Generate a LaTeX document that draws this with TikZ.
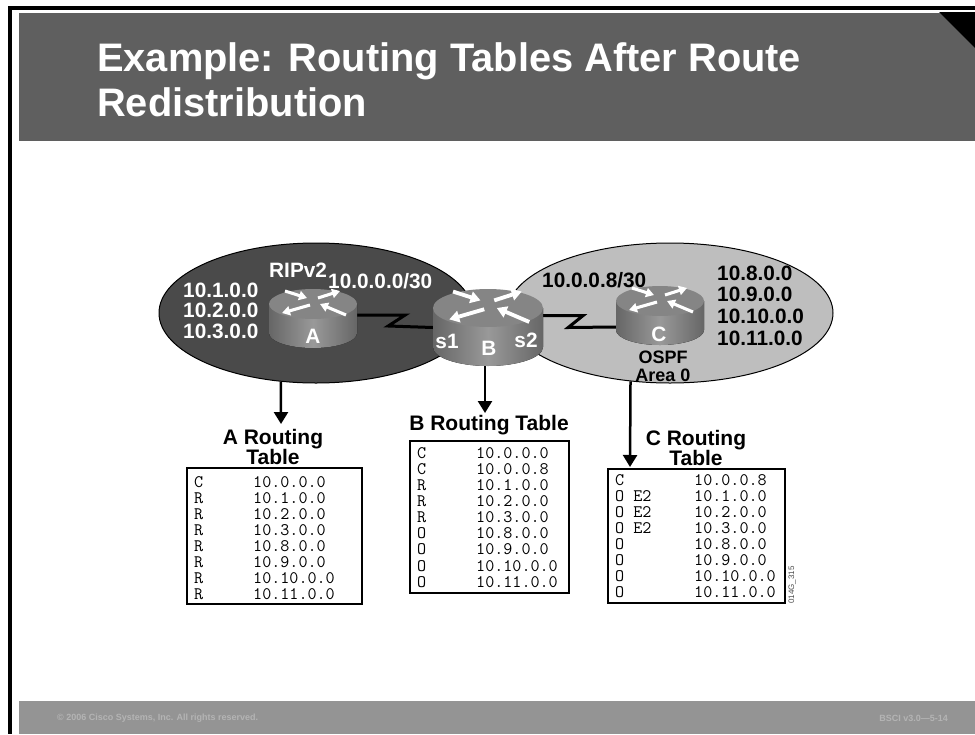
\documentclass[tikz,border=0pt]{standalone}
\usepackage{fontspec}
\setmainfont{Liberation Sans}
\usetikzlibrary{arrows.meta,shapes.geometric}

\definecolor{headgray}{HTML}{5F5F5F}
\definecolor{footgray}{HTML}{949494}
\definecolor{footink}{HTML}{B4B4B4}
\definecolor{ripfill}{HTML}{4A4A4A}
\definecolor{ospffill}{HTML}{BEBEBE}
\definecolor{routertop}{HTML}{858585}
\definecolor{routerdark}{HTML}{666666}
\definecolor{routerlight}{HTML}{999999}

\tikzset{
  area/.style={ellipse,draw=black,line width=1pt,inner sep=0pt,minimum width=#1},
  routerbox/.style={rectangle,inner sep=0pt},
  netlabel/.style={anchor=west,inner sep=0pt,font=\fontsize{20.8}{22}\selectfont\bfseries},
  smalllabel/.style={inner sep=0pt,align=center,font=\fontsize{18}{18}\selectfont\bfseries},
  tabletitle/.style={inner sep=0pt,align=center,font=\fontsize{21}{18}\selectfont\bfseries},
  tablebox/.style={rectangle,draw=black,line width=1.6pt,fill=white,inner sep=0pt},
  rowtext/.style={anchor=west,inner sep=0pt,font=\fontsize{17.6}{16}\selectfont\ttfamily},
  footnote/.style={inner sep=0pt,text=footink,font=\fontsize{9}{10}\selectfont\bfseries},
  link/.style={draw=black,line width=3pt,miter limit=10},
  lookup/.style={draw=black,line width=2.5pt,-{Triangle[length=12pt,width=14pt]}},
  flow/.style={draw=white,line width=#1,-{Triangle[length=0pt 2.6,width=0pt 3]}}
}

\newcommand{\routerbody}[5]{
\begin{scope}[shift={(#1,#2)}]
\fill[left color=routerdark,right color=routerdark,middle color=routerlight]
  (-#3,0) -- (-#3,#5) arc[start angle=180,end angle=360,x radius=#3pt,y radius=#4pt] -- (#3,0) -- cycle;
\fill[routertop] (0,0) ellipse[x radius=#3pt,y radius=#4pt];
\begin{scope}[xscale=#3/44,yscale=#4/15]
\draw[flow=#3*0.07pt] (-28,-13) -- (-6,-6);
\draw[flow=#3*0.07pt] (5,-6) -- (27,-13);
\draw[flow=#3*0.07pt] (-3,1) -- (-31,9);
\draw[flow=#3*0.07pt] (33,11) -- (7,0);
\end{scope}
\end{scope}
}

\begin{document}
\begin{tikzpicture}[x=1pt,y=-1pt]
\useasboundingbox (0,0) rectangle (975,734);

\fill[black] (8,6) rectangle (12,734);
\fill[black] (8,6) rectangle (975,10);
\fill[headgray] (19,13) rectangle (975,141);
\fill[black] (939,12) -- (975,12) -- (975,48) -- cycle;
\fill[footgray] (19,701) rectangle (975,734);

\node[anchor=north west,inner sep=0pt,align=left,text=white,font=\fontsize{39.8}{45}\selectfont\bfseries] (title) at (97,42)
  {Example: Routing Tables After Route\\Redistribution};

\node[area=314pt,minimum height=140pt,fill=ripfill] (ripArea) at (316,313) {};
\node[area=326pt,minimum height=140pt,fill=ospffill] (ospfArea) at (670,313) {};

\node[routerbox,minimum width=88pt,minimum height=58pt] (routerA) at (313,318) {};
\node[routerbox,minimum width=110pt,minimum height=77pt] (routerB) at (488,327.5) {};
\node[routerbox,minimum width=88pt,minimum height=59pt] (routerC) at (660,315.5) {};

\draw[link] ([yshift=3pt]routerA.east) -- ++(48,0) -- ++(-17,11) -- (routerB.west);
\draw[link] ([yshift=12pt]routerB.east) -- ++(40,0) -- ++(-15,12) -- ([yshift=-11.5pt]routerC.west);

\coordinate (arrowA) at (281,424);
\coordinate (arrowB) at (485,413);
\coordinate (arrowC) at (630,467);
\draw[lookup] (ripArea.-117) -- (arrowA);
\draw[lookup] (routerB.south -| arrowB) -- (arrowB);
\draw[lookup] (ospfArea.-120.5) -- (arrowC);

\routerbody{313}{304}{44}{15}{29}
\routerbody{488}{308}{55}{19}{39}
\routerbody{660}{301}{44}{15}{29}

\foreach \net [count=\i from 0] in {10.1.0.0,10.2.0.0,10.3.0.0}
\node[netlabel,text=white] (ripNet\i) at (183,290+20.7*\i) {\net};

\foreach \net [count=\i from 0] in {10.8.0.0,10.9.0.0,10.10.0.0,10.11.0.0}
\node[netlabel] (ospfNet\i) at (717,273+21.7*\i) {\net};

\node[netlabel,text=white] (ripName) at (269,270) {RIPv2};
\node[netlabel,text=white] (linkAB) at (328,281) {10.0.0.0/30};
\node[netlabel] (linkBC) at (542,280) {10.0.0.8/30};
\node[netlabel,text=white,anchor=center] (nameA) at (313,336) {A};
\node[netlabel,text=white,anchor=center] (nameB) at (489,348) {B};
\node[netlabel,text=white,anchor=center] (nameC) at (659,334) {C};
\node[netlabel,text=white,anchor=center] (portS1) at (447,341) {s1};
\node[netlabel,text=white,anchor=center] (portS2) at (526,340) {s2};
\node[smalllabel] (ospfName) at (663,366) {OSPF\\Area 0};

\node[tabletitle] (titleA) at (273,447) {A Routing\\Table};
\node[tabletitle] (titleB) at (489,425) {B Routing Table};
\node[tabletitle] (titleC) at (696,448) {C Routing\\Table};

\node[tablebox,minimum width=175pt,minimum height=136pt] (tableA) at (274.5,536) {};
\node[tablebox,minimum width=159pt,minimum height=152pt] (tableB) at (489.5,517) {};
\node[tablebox,minimum width=177pt,minimum height=134pt] (tableC) at (696.5,536) {};

\foreach \kind/\net [count=\i from 0] in {C/10.0.0.0,R/10.1.0.0,R/10.2.0.0,R/10.3.0.0,R/10.8.0.0,R/10.9.0.0,R/10.10.0.0,R/10.11.0.0}
{
\node[rowtext] (kindA\i) at (194,482+16*\i) {\kind};
\node[rowtext] (netA\i) at (253,482+16*\i) {\net};
}

\foreach \kind/\net [count=\i from 0] in {C/10.0.0.0,C/10.0.0.8,R/10.1.0.0,R/10.2.0.0,R/10.3.0.0,O/10.8.0.0,O/10.9.0.0,O/10.10.0.0,O/10.11.0.0}
{
\node[rowtext] (kindB\i) at (417,453+16.1*\i) {\kind};
\node[rowtext] (netB\i) at (476,453+16.1*\i) {\net};
}

\foreach \kind/\net [count=\i from 0] in {C/10.0.0.8,O E2/10.1.0.0,O E2/10.2.0.0,O E2/10.3.0.0,O/10.8.0.0,O/10.9.0.0,O/10.10.0.0,O/10.11.0.0}
{
\node[rowtext] (kindC\i) at (615,480+16*\i) {\kind};
\node[rowtext] (netC\i) at (694,480+16*\i) {\net};
}

\node[inner sep=0pt,rotate=90,text=black!70,font=\fontsize{8}{9}\selectfont] (figCode) at (792,585) {014G\_315};

\node[footnote,anchor=west] (copyright) at (57,718) {© 2006 Cisco Systems, Inc. All rights reserved.};
\node[footnote,anchor=east] (course) at (948,718) {BSCI v3.0—5-14};
\end{tikzpicture}
\end{document}
